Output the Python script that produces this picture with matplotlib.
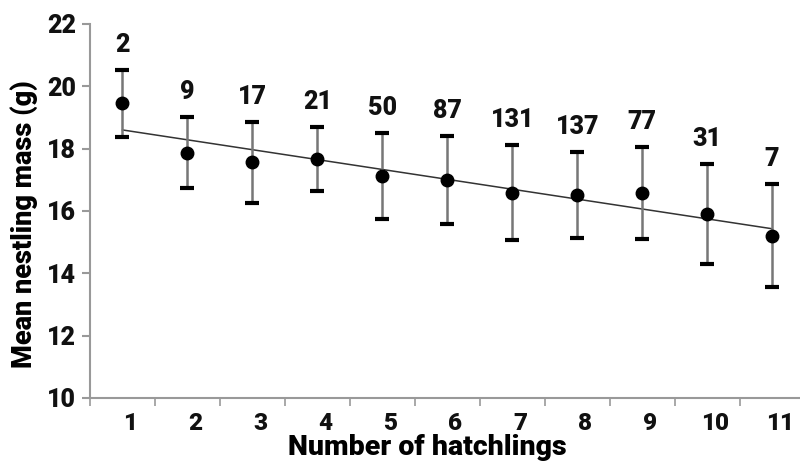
import matplotlib
matplotlib.use("Agg")
import matplotlib.pyplot as plt
import numpy as np

hatchlings = [1, 2, 3, 4, 5, 6, 7, 8, 9, 10, 11]
mean_mass = [19.46, 17.85, 17.56, 17.67, 17.12, 16.99, 16.59, 16.51, 16.59, 15.89, 15.20]
upper = [20.52, 19.00, 18.87, 18.71, 18.51, 18.41, 18.12, 17.90, 18.06, 17.51, 16.86]
lower = [18.38, 16.73, 16.25, 16.65, 15.74, 15.57, 15.07, 15.12, 15.09, 14.29, 13.57]
n_broods = ["2", "9", "17", "21", "50", "87", "131", "137", "77", "31", "7"]
fit_x = [1, 11]
fit_y = [18.60, 15.43]
yticks = [10, 12, 14, 16, 18, 20, 22]

plt.rcParams['font.family'] = ['Roboto', 'Liberation Sans', 'DejaVu Sans']
W = 'black'

fig = plt.figure(figsize=(8.0, 4.61), dpi=100)
ax = fig.add_axes([0.1125, 0.1367, 0.8875, 0.8113])

x = np.array(hatchlings)
m = np.array(mean_mass)
yerr = [m - np.array(lower), np.array(upper) - m]

ax.plot(fit_x, fit_y, color='#333333', lw=1.1, zorder=2)
eb = ax.errorbar(x, m, yerr=yerr, fmt='o', color='black', markersize=9,
                 ecolor='#777777', elinewidth=1.8, capsize=4.7, capthick=3, zorder=3)
for cl in eb[1]:
    cl.set_color('black')
    cl.set_markeredgecolor('black')

for xi, ui, lab in zip(x, upper, n_broods):
    ax.annotate(lab, (xi, ui), xytext=(0, 18), textcoords='offset points',
                ha='center', va='center', fontsize=18, fontweight=W, color='#111111')

ax.set_xlim(0.5, 11.43)
ax.set_ylim(10, 22)
ax.set_yticks(yticks)
ax.set_yticklabels([str(v) for v in yticks], fontsize=18, fontweight=W, color='#111111')
ax.set_xticks(np.arange(0.5, 11.5, 1.0))
ax.set_xticklabels([])
ax.set_xticks(x + 0.12, minor=True)
ax.set_xticklabels([str(v) for v in hatchlings], minor=True, fontsize=17.5,
                   fontweight=W, color='#111111')
ax.tick_params(axis='x', which='minor', length=0, pad=10)
ax.tick_params(axis='x', which='major', length=6, width=1.2, color='#999999')
ax.tick_params(axis='y', length=6, width=1.5, color='#999999', pad=4)

for s in ['top', 'right']:
    ax.spines[s].set_visible(False)
for s in ['left', 'bottom']:
    ax.spines[s].set_color('#999999')
    ax.spines[s].set_linewidth(1.5)

ax.set_xlabel('Number of hatchlings', fontsize=20.5, fontweight=W, va='center')
ax.xaxis.set_label_coords((427 - 90) / 710, -(448 - 398) / 374)
ax.set_ylabel('Mean nestling mass (g)', fontsize=19.5, fontweight=W, va='center')
ax.yaxis.set_label_coords((24 - 90) / 710, (398 - 224) / 374)

fig.savefig('out.png', dpi=100)
